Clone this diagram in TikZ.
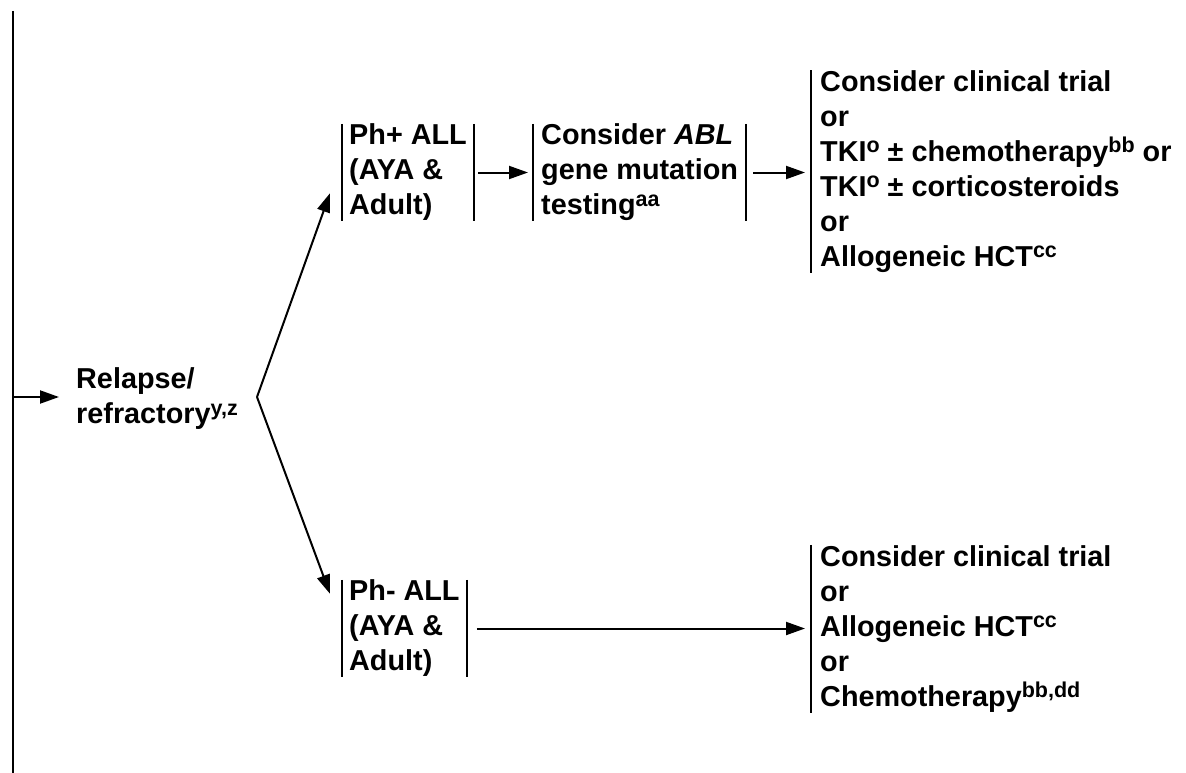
\documentclass[tikz,border=0pt]{standalone}
\usepackage{fontspec}
\setmainfont{Liberation Sans}
\usetikzlibrary{arrows.meta,calc}
\newcommand{\mainf}{\fontsize{28.8}{35}\selectfont\bfseries}
\newcommand{\spx}[1]{\raisebox{8.5pt}{\fontsize{21.5}{21.5}\selectfont #1}}
\tikzset{
  txtbox/.style={inner xsep=7pt, inner ysep=0pt, align=left, minimum height=97pt, font=\mainf, anchor=west},
  bar/.style={line width=2.4pt},
  arr/.style={line width=2pt, -{Triangle[length=19pt,width=13pt]}}
}
\begin{document}
\begin{tikzpicture}[x=1pt,y=-1pt]
\useasboundingbox (0,0) rectangle (1186,773);
% left spine
\coordinate (top) at (13,11);
\coordinate (bot) at (13,773);
\coordinate (lj) at (13,397);
\draw[bar] (top) -- (bot);

\node[anchor=west, inner sep=0pt, align=left, font=\mainf] (rel) at (76,399) {Relapse/\\refractory\spx{y,z}};

\node[txtbox] (ph) at (342,172.5) {Ph+ ALL\\(AYA \&\\Adult)};
\node[txtbox, inner xsep=8pt] (abl) at (533,172.5) {Consider \textit{ABL}\\gene mutation\\testing\spx{aa}};
\node[txtbox, inner xsep=9pt, minimum height=201pt] (r1) at (811,171.5) {Consider clinical trial\\or\\TKI\spx{o} ± chemotherapy\spx{bb} or\\TKI\spx{o} ± corticosteroids\\or\\Allogeneic HCT\spx{cc}};
\node[txtbox] (phm) at (342,628.5) {Ph- ALL\\(AYA \&\\Adult)};
\node[txtbox, inner xsep=9pt, minimum height=168pt] (r2) at (811,629) {Consider clinical trial\\or\\Allogeneic HCT\spx{cc}\\or\\Chemotherapy\spx{bb,dd}};

% bars
\draw[bar] (ph.north west) -- (ph.south west);
\draw[bar] (ph.north east) -- (ph.south east);
\draw[bar] (abl.north west) -- (abl.south west);
\draw[bar] (abl.north east) -- (abl.south east);
\draw[bar] (phm.north west) -- (phm.south west);
\draw[bar] (phm.north east) -- (phm.south east);
\draw[bar] (r1.north west) -- (r1.south west);
\draw[bar] (r2.north west) -- (r2.south west);

% connectors
\draw[arr, shorten >=17pt] (lj) -- (lj -| rel.west);
\coordinate (fork) at (257,397);
\draw[arr] (fork) -- ($(ph.south west)+(-12,-28)$);
\draw[arr] (fork) -- ($(phm.north west)+(-12,14)$);
\draw[arr, shorten <=4pt, shorten >=5pt] (ph.east) -- (abl.west);
\draw[arr, shorten <=7pt, shorten >=6pt] (abl.east) -- (abl.east -| r1.west);
\draw[arr, shorten <=10pt, shorten >=6pt] (phm.east) -- (phm.east -| r2.west);
\end{tikzpicture}
\end{document}
